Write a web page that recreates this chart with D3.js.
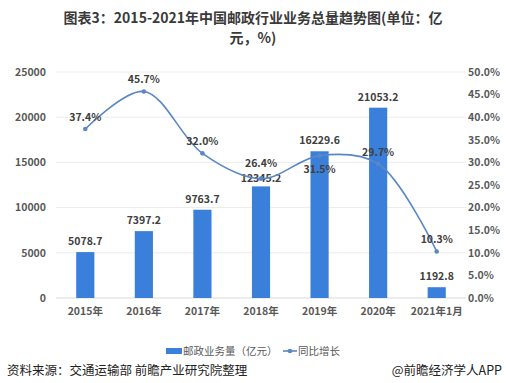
<!DOCTYPE html>
<html>
<head>
<meta charset="utf-8">
<script src="https://cdn.jsdelivr.net/npm/d3@7"></script>
<style>
body { margin: 0; background: #fff; }
text { font-family: "Noto Sans CJK SC", "DejaVu Sans", sans-serif; }
</style>
</head>
<body>
<svg id="viz"></svg>
<script>
var width = 506;
var height = 383;

var categories = ["2015年", "2016年", "2017年", "2018年", "2019年", "2020年", "2021年1月"];
var volume = [5078.7, 7397.2, 9763.7, 12345.2, 16229.6, 21053.2, 1192.8];
var growth = [37.4, 45.7, 32.0, 26.4, 31.5, 29.7, 10.3];
var leftTicks = [0, 5000, 10000, 15000, 20000, 25000];
var rightTicks = [0, 5, 10, 15, 20, 25, 30, 35, 40, 45, 50];

var margin = {left: 56, right: 40, top: 72, bottom: 85};

var svg = d3.select("#viz").attr("width", width).attr("height", height);

// title
svg.append("text").attr("x", width / 2).attr("y", 23).attr("text-anchor", "middle")
    .style("font-size", "14px").style("font-weight", "bold").attr("fill", "#3a3a3a")
    .text("图表3：2015-2021年中国邮政行业业务总量趋势图(单位：亿");
svg.append("text").attr("x", width / 2).attr("y", 43).attr("text-anchor", "middle")
    .style("font-size", "14px").style("font-weight", "bold").attr("fill", "#3a3a3a")
    .text("元，%)");

var x = d3.scaleBand().domain(categories)
    .range([margin.left, width - margin.right]).paddingInner(0.69).paddingOuter(0.345);
var y = d3.scaleLinear().domain([0, 25000]).range([height - margin.bottom, margin.top]);
var y2 = d3.scaleLinear().domain([0, 50]).range([height - margin.bottom, margin.top]);

// grid
svg.append("g").selectAll("line").data(leftTicks).enter().append("line")
    .attr("x1", margin.left).attr("x2", width - margin.right)
    .attr("y1", function(d) { return y(d); }).attr("y2", function(d) { return y(d); })
    .attr("stroke", function(d) { return d == 0 ? "#d9d9d9" : "#ececec"; }).attr("stroke-width", 1);

// left axis
var yAxis = svg.append("g").attr("transform", "translate(" + 46 + ",0)")
    .call(d3.axisLeft(y).tickValues(leftTicks).tickSize(0).tickPadding(0).tickFormat(d3.format("d")));
yAxis.select(".domain").remove();
yAxis.selectAll("text").style("font-size", "10.5px").attr("fill", "#595959").style("font-weight", "bold");

// right axis
var yAxis2 = svg.append("g").attr("transform", "translate(" + 468 + ",0)")
    .call(d3.axisRight(y2).tickValues(rightTicks).tickSize(0).tickPadding(0)
        .tickFormat(function(d) { return d.toFixed(1) + "%"; }));
yAxis2.select(".domain").remove();
yAxis2.selectAll("text").style("font-size", "10.5px").attr("fill", "#595959").style("font-weight", "bold");

// x axis
var xAxis = svg.append("g").attr("transform", "translate(0," + (height - margin.bottom) + ")")
    .call(d3.axisBottom(x).tickSize(0).tickPadding(10));
xAxis.select(".domain").remove();
xAxis.selectAll("text").style("font-size", "10.5px").attr("fill", "#595959").style("font-weight", "bold");

// bars
var bars = svg.append("g");
bars.selectAll("rect").data(volume).enter().append("rect")
    .attr("x", function(d, i) { return x(categories[i]); })
    .attr("width", x.bandwidth())
    .attr("y", function(d) { return y(d); })
    .attr("height", function(d) { return y(0) - y(d); })
    .attr("fill", "#3a7fd9");

bars.selectAll("text").data(volume).enter().append("text")
    .attr("x", function(d, i) { return x(categories[i]) + x.bandwidth() / 2; })
    .attr("y", function(d, i) { return y(d) - (i == 3 ? 4 : 7); })
    .attr("text-anchor", "middle")
    .style("font-size", "10.5px").style("font-weight", "bold").attr("fill", "#404040")
    .text(function(d) { return d.toFixed(1); });

// line
var pts = growth.map(function(d, i) { return [x(categories[i]) + x.bandwidth() / 2, y2(d)]; });
var line = d3.line().curve(d3.curveCatmullRom.alpha(0.5));
svg.append("path").attr("d", line(pts)).attr("fill", "none")
    .attr("stroke", "#5b87c5").attr("stroke-width", 1.6);
svg.append("g").selectAll("circle").data(pts).enter().append("circle")
    .attr("cx", function(d) { return d[0]; }).attr("cy", function(d) { return d[1]; })
    .attr("r", 2.3).attr("fill", "#5b87c5");

svg.append("g").selectAll("text").data(growth).enter().append("text")
    .attr("x", function(d, i) { return pts[i][0]; })
    .attr("y", function(d, i) { return i == 4 ? pts[i][1] + 17 : (i == 3 ? pts[i][1] - 12 : pts[i][1] - 8); })
    .attr("text-anchor", "middle")
    .style("font-size", "10.5px").style("font-weight", "bold").attr("fill", "#404040")
    .text(function(d) { return d.toFixed(1) + "%"; });

// legend
var lg = svg.append("g").attr("transform", "translate(0,351)");
lg.append("rect").attr("x", 166).attr("y", -3).attr("width", 16).attr("height", 6).attr("fill", "#3a7fd9");
lg.append("text").attr("x", 183).attr("y", 4).style("font-size", "10.5px").attr("fill", "#595959")
    .text("邮政业务量（亿元）");
lg.append("line").attr("x1", 283).attr("x2", 297).attr("y1", 0).attr("y2", 0)
    .attr("stroke", "#5b87c5").attr("stroke-width", 1.6);
lg.append("circle").attr("cx", 290).attr("cy", 0).attr("r", 2.3).attr("fill", "#5b87c5");
lg.append("text").attr("x", 298).attr("y", 4).style("font-size", "10.5px").attr("fill", "#595959")
    .text("同比增长");

// footer
svg.append("text").attr("x", 7).attr("y", 375).style("font-size", "12.5px").attr("fill", "#222")
    .text("资料来源：交通运输部 前瞻产业研究院整理");
svg.append("text").attr("x", 502).attr("y", 375).attr("text-anchor", "end")
    .style("font-size", "12.5px").attr("fill", "#222")
    .text("@前瞻经济学人APP");
</script>
</body>
</html>
